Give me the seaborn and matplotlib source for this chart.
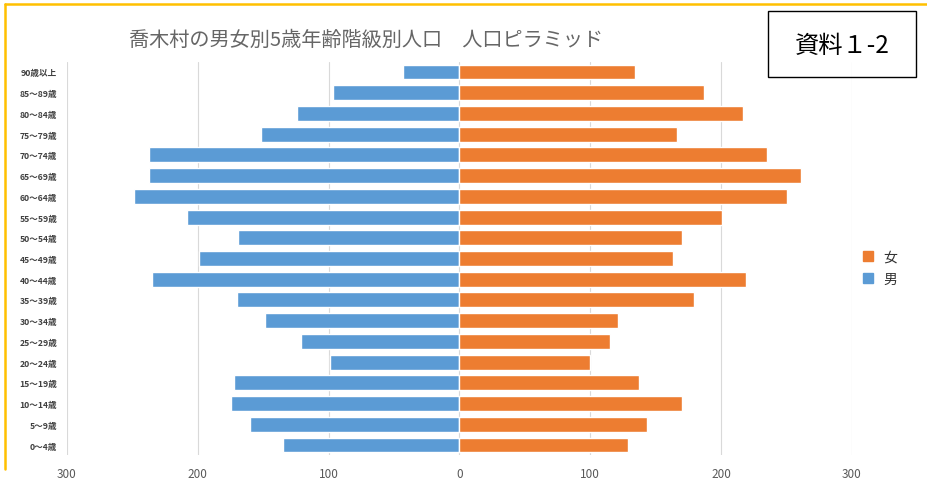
import matplotlib
matplotlib.use("Agg")
import matplotlib.pyplot as plt
import seaborn as sns
import pandas as pd
import numpy as np
from matplotlib.lines import Line2D
from matplotlib.patches import Rectangle

# ---- data (top row first) ----
age_groups = ["90歳以上", "85～89歳", "80～84歳", "75～79歳", "70～74歳", "65～69歳",
              "60～64歳", "55～59歳", "50～54歳", "45～49歳", "40～44歳", "35～39歳",
              "30～34歳", "25～29歳", "20～24歳", "15～19歳", "10～14歳", "5～9歳", "0～4歳"]
male = [43, 97, 124, 152, 237, 237, 249, 208, 169, 199, 235, 170, 149, 121, 99, 172, 175, 160, 135]
female = [134, 187, 217, 166, 235, 261, 250, 201, 170, 163, 219, 179, 121, 115, 100, 137, 170, 143, 129]
sexes = ["男", "女"]
colors = {"男": "#5B9BD5", "女": "#ED7D31"}
ticks = [-300, -200, -100, 0, 100, 200, 300]
title = "喬木村の男女別5歳年齢階級別人口　人口ピラミッド"
doc_label = "資料１-2"

df = pd.DataFrame({
    "age": age_groups * 2,
    "sex": ["男"] * len(age_groups) + ["女"] * len(age_groups),
    "value": [-v for v in male] + list(female),
})

sns.set_theme(style="white")
plt.rcParams["font.family"] = ["Noto Sans CJK JP", "DejaVu Sans"]

fig = plt.figure(figsize=(9.28, 4.85), dpi=100)
ax = fig.add_axes([67 / 928, 1 - 456.4 / 485, (852 - 67) / 928, (456.4 - 62.6) / 485])

sns.barplot(data=df, y="age", x="value", hue="sex", order=age_groups,
            hue_order=sexes, palette=colors, dodge=False, width=0.72,
            orient="h", ax=ax, legend=False, saturation=1)

ax.set_xlim(-300, 300)
ax.set_xticks(ticks)
ax.set_xticklabels([str(abs(t)) for t in ticks], fontsize=8.5, color="#595959")
ax.tick_params(axis="x", length=0, pad=8)
ax.tick_params(axis="y", length=0, pad=7, labelsize=6.2, labelcolor="#404040")
ax.set_xlabel("")
ax.set_ylabel("")
for s in ax.spines.values():
    s.set_visible(False)
ax.grid(axis="x", color="#D9D9D9", linewidth=0.8)
ax.set_axisbelow(True)
for lab in ax.get_yticklabels():
    lab.set_fontweight("bold")

# legend: 女 above 男
handles = [Line2D([], [], marker="s", linestyle="", markersize=7, color=colors["女"]),
           Line2D([], [], marker="s", linestyle="", markersize=7, color=colors["男"])]
fig.legend(handles, ["女", "男"], loc="center left", bbox_to_anchor=(842 / 928, 1 - 269 / 485),
           frameon=False, fontsize=10, handletextpad=0.1, labelspacing=0.6, labelcolor="#333333")

# title
fig.text(366 / 928, 1 - 40 / 485, title, ha="center", va="center", fontsize=14.5, color="#666666")

# document label box
fig.patches.append(Rectangle((768 / 928, 1 - 78 / 485), (916 - 768) / 928, (78 - 12) / 485,
                             transform=fig.transFigure, fill=False, edgecolor="black",
                             linewidth=1.0, figure=fig))
fig.text(842 / 928, 1 - 46 / 485, doc_label, ha="center", va="center", fontsize=17.5, color="black")

# yellow frame lines (top and left)
fig.add_artist(Line2D([5 / 928, 1.0], [1 - 5 / 485, 1 - 5 / 485], transform=fig.transFigure,
                      color="#FFC000", linewidth=1.8))
fig.add_artist(Line2D([5 / 928, 5 / 928], [1 - 5 / 485, 1 - 470 / 485], transform=fig.transFigure,
                      color="#FFC000", linewidth=1.8))

fig.savefig("out.png", dpi=100)
